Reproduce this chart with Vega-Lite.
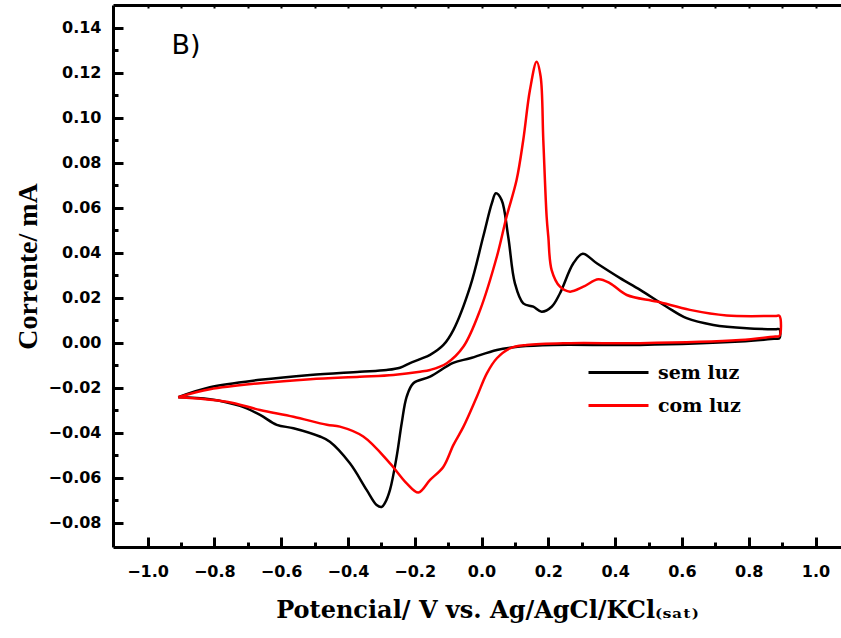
{
  "$schema": "https://vega.github.io/schema/vega-lite/v6.json",
  "width": 728,
  "height": 542,
  "autosize": {"type": "none"},
  "padding": {"left": 113, "top": 5, "right": 0, "bottom": 91},
  "background": "white",
  "config": {"view": {"stroke": null}, "axis": {"grid": false}},
  "datasets": {
    "cv": [
      {"s": "sem luz", "i": 1, "x": -0.908, "y": -0.0241},
      {"s": "sem luz", "i": 2, "x": -0.813, "y": -0.0197},
      {"s": "sem luz", "i": 3, "x": -0.663, "y": -0.0164},
      {"s": "sem luz", "i": 4, "x": -0.513, "y": -0.0142},
      {"s": "sem luz", "i": 5, "x": -0.364, "y": -0.0128},
      {"s": "sem luz", "i": 6, "x": -0.284, "y": -0.0120},
      {"s": "sem luz", "i": 7, "x": -0.244, "y": -0.0110},
      {"s": "sem luz", "i": 8, "x": -0.214, "y": -0.0090},
      {"s": "sem luz", "i": 9, "x": -0.184, "y": -0.0072},
      {"s": "sem luz", "i": 10, "x": -0.154, "y": -0.0053},
      {"s": "sem luz", "i": 11, "x": -0.114, "y": -0.0009},
      {"s": "sem luz", "i": 12, "x": -0.084, "y": 0.0058},
      {"s": "sem luz", "i": 13, "x": -0.034, "y": 0.0250},
      {"s": "sem luz", "i": 14, "x": 0.005, "y": 0.0472},
      {"s": "sem luz", "i": 15, "x": 0.031, "y": 0.0621},
      {"s": "sem luz", "i": 16, "x": 0.043, "y": 0.0665},
      {"s": "sem luz", "i": 17, "x": 0.060, "y": 0.0636},
      {"s": "sem luz", "i": 18, "x": 0.080, "y": 0.0472},
      {"s": "sem luz", "i": 19, "x": 0.100, "y": 0.0265},
      {"s": "sem luz", "i": 20, "x": 0.125, "y": 0.0176},
      {"s": "sem luz", "i": 21, "x": 0.155, "y": 0.0161},
      {"s": "sem luz", "i": 22, "x": 0.180, "y": 0.0139},
      {"s": "sem luz", "i": 23, "x": 0.210, "y": 0.0161},
      {"s": "sem luz", "i": 24, "x": 0.235, "y": 0.0221},
      {"s": "sem luz", "i": 25, "x": 0.275, "y": 0.0354},
      {"s": "sem luz", "i": 26, "x": 0.303, "y": 0.0396},
      {"s": "sem luz", "i": 27, "x": 0.345, "y": 0.0354},
      {"s": "sem luz", "i": 28, "x": 0.415, "y": 0.0288},
      {"s": "sem luz", "i": 29, "x": 0.475, "y": 0.0236},
      {"s": "sem luz", "i": 30, "x": 0.554, "y": 0.0161},
      {"s": "sem luz", "i": 31, "x": 0.614, "y": 0.0110},
      {"s": "sem luz", "i": 32, "x": 0.694, "y": 0.0080},
      {"s": "sem luz", "i": 33, "x": 0.794, "y": 0.0065},
      {"s": "sem luz", "i": 34, "x": 0.880, "y": 0.0061},
      {"s": "sem luz", "i": 35, "x": 0.892, "y": 0.0061},
      {"s": "sem luz", "i": 36, "x": 0.892, "y": 0.0021},
      {"s": "sem luz", "i": 37, "x": 0.880, "y": 0.0019},
      {"s": "sem luz", "i": 38, "x": 0.774, "y": 0.0006},
      {"s": "sem luz", "i": 39, "x": 0.475, "y": -0.0009},
      {"s": "sem luz", "i": 40, "x": 0.214, "y": -0.0009},
      {"s": "sem luz", "i": 41, "x": 0.115, "y": -0.0016},
      {"s": "sem luz", "i": 42, "x": 0.046, "y": -0.0031},
      {"s": "sem luz", "i": 43, "x": -0.034, "y": -0.0068},
      {"s": "sem luz", "i": 44, "x": -0.085, "y": -0.0089},
      {"s": "sem luz", "i": 45, "x": -0.154, "y": -0.0150},
      {"s": "sem luz", "i": 46, "x": -0.204, "y": -0.0179},
      {"s": "sem luz", "i": 47, "x": -0.224, "y": -0.0239},
      {"s": "sem luz", "i": 48, "x": -0.239, "y": -0.0357},
      {"s": "sem luz", "i": 49, "x": -0.254, "y": -0.0505},
      {"s": "sem luz", "i": 50, "x": -0.274, "y": -0.0653},
      {"s": "sem luz", "i": 51, "x": -0.289, "y": -0.0711},
      {"s": "sem luz", "i": 52, "x": -0.299, "y": -0.0729},
      {"s": "sem luz", "i": 53, "x": -0.314, "y": -0.0720},
      {"s": "sem luz", "i": 54, "x": -0.344, "y": -0.0653},
      {"s": "sem luz", "i": 55, "x": -0.394, "y": -0.0535},
      {"s": "sem luz", "i": 56, "x": -0.454, "y": -0.0439},
      {"s": "sem luz", "i": 57, "x": -0.484, "y": -0.0416},
      {"s": "sem luz", "i": 58, "x": -0.563, "y": -0.0379},
      {"s": "sem luz", "i": 59, "x": -0.613, "y": -0.0364},
      {"s": "sem luz", "i": 60, "x": -0.663, "y": -0.0320},
      {"s": "sem luz", "i": 61, "x": -0.723, "y": -0.0280},
      {"s": "sem luz", "i": 62, "x": -0.813, "y": -0.0250},
      {"s": "sem luz", "i": 63, "x": -0.908, "y": -0.0241},
      {"s": "com luz", "i": 1, "x": -0.908, "y": -0.0241},
      {"s": "com luz", "i": 2, "x": -0.813, "y": -0.0206},
      {"s": "com luz", "i": 3, "x": -0.663, "y": -0.0179},
      {"s": "com luz", "i": 4, "x": -0.513, "y": -0.0161},
      {"s": "com luz", "i": 5, "x": -0.364, "y": -0.0150},
      {"s": "com luz", "i": 6, "x": -0.264, "y": -0.0142},
      {"s": "com luz", "i": 7, "x": -0.184, "y": -0.0128},
      {"s": "com luz", "i": 8, "x": -0.154, "y": -0.0120},
      {"s": "com luz", "i": 9, "x": -0.104, "y": -0.0090},
      {"s": "com luz", "i": 10, "x": -0.054, "y": -0.0016},
      {"s": "com luz", "i": 11, "x": -0.004, "y": 0.0147},
      {"s": "com luz", "i": 12, "x": 0.046, "y": 0.0384},
      {"s": "com luz", "i": 13, "x": 0.075, "y": 0.0561},
      {"s": "com luz", "i": 14, "x": 0.105, "y": 0.0724},
      {"s": "com luz", "i": 15, "x": 0.125, "y": 0.0902},
      {"s": "com luz", "i": 16, "x": 0.145, "y": 0.1124},
      {"s": "com luz", "i": 17, "x": 0.165, "y": 0.1250},
      {"s": "com luz", "i": 18, "x": 0.177, "y": 0.1184},
      {"s": "com luz", "i": 19, "x": 0.185, "y": 0.0902},
      {"s": "com luz", "i": 20, "x": 0.195, "y": 0.0561},
      {"s": "com luz", "i": 21, "x": 0.200, "y": 0.0472},
      {"s": "com luz", "i": 22, "x": 0.210, "y": 0.0324},
      {"s": "com luz", "i": 23, "x": 0.235, "y": 0.0250},
      {"s": "com luz", "i": 24, "x": 0.265, "y": 0.0228},
      {"s": "com luz", "i": 25, "x": 0.305, "y": 0.0250},
      {"s": "com luz", "i": 26, "x": 0.350, "y": 0.0283},
      {"s": "com luz", "i": 27, "x": 0.385, "y": 0.0265},
      {"s": "com luz", "i": 28, "x": 0.435, "y": 0.0213},
      {"s": "com luz", "i": 29, "x": 0.525, "y": 0.0184},
      {"s": "com luz", "i": 30, "x": 0.624, "y": 0.0147},
      {"s": "com luz", "i": 31, "x": 0.734, "y": 0.0122},
      {"s": "com luz", "i": 32, "x": 0.880, "y": 0.0120},
      {"s": "com luz", "i": 33, "x": 0.892, "y": 0.0120},
      {"s": "com luz", "i": 34, "x": 0.892, "y": 0.0031},
      {"s": "com luz", "i": 35, "x": 0.880, "y": 0.0029},
      {"s": "com luz", "i": 36, "x": 0.774, "y": 0.0013},
      {"s": "com luz", "i": 37, "x": 0.475, "y": -0.0001},
      {"s": "com luz", "i": 38, "x": 0.265, "y": -0.0001},
      {"s": "com luz", "i": 39, "x": 0.135, "y": -0.0009},
      {"s": "com luz", "i": 40, "x": 0.085, "y": -0.0024},
      {"s": "com luz", "i": 41, "x": 0.046, "y": -0.0068},
      {"s": "com luz", "i": 42, "x": 0.016, "y": -0.0135},
      {"s": "com luz", "i": 43, "x": -0.014, "y": -0.0239},
      {"s": "com luz", "i": 44, "x": -0.054, "y": -0.0372},
      {"s": "com luz", "i": 45, "x": -0.084, "y": -0.0453},
      {"s": "com luz", "i": 46, "x": -0.114, "y": -0.0550},
      {"s": "com luz", "i": 47, "x": -0.154, "y": -0.0609},
      {"s": "com luz", "i": 48, "x": -0.189, "y": -0.0665},
      {"s": "com luz", "i": 49, "x": -0.224, "y": -0.0624},
      {"s": "com luz", "i": 50, "x": -0.274, "y": -0.0535},
      {"s": "com luz", "i": 51, "x": -0.354, "y": -0.0416},
      {"s": "com luz", "i": 52, "x": -0.424, "y": -0.0372},
      {"s": "com luz", "i": 53, "x": -0.463, "y": -0.0364},
      {"s": "com luz", "i": 54, "x": -0.563, "y": -0.0328},
      {"s": "com luz", "i": 55, "x": -0.663, "y": -0.0298},
      {"s": "com luz", "i": 56, "x": -0.763, "y": -0.0261},
      {"s": "com luz", "i": 57, "x": -0.908, "y": -0.0241}
    ]
  },
  "layer": [
    {
      "data": {"name": "cv"},
      "mark": {"type": "line", "strokeWidth": 2.5, "clip": true, "interpolate": "catmull-rom"},
      "encoding": {
        "x": {
          "field": "x", "type": "quantitative",
          "scale": {"domain": [-1.1033, 1.0763], "nice": false, "zero": false},
          "axis": {
            "orient": "bottom",
            "values": [-1.0, -0.8, -0.6, -0.4, -0.2, 0.0, 0.2, 0.4, 0.6, 0.8, 1.0],
            "format": ".1f",
            "labelFont": "DejaVu Sans", "labelFontWeight": "bold", "labelFontSize": 16, "labelColor": "black",
            "labelPadding": 26,
            "tickSize": -10,
            "tickWidth": 3, "tickColor": "black",
            "domainColor": "black", "domainWidth": 3,
            "title": "Potencial/ V vs. Ag/AgCl/KCl₍ₛₐₜ₎",
            "titleFont": "DejaVu Serif", "titleFontWeight": "bold", "titleFontSize": 24, "titleColor": "black",
            "titleX": 374, "titleY": 70, "titleAlign": "center", "titleBaseline": "alphabetic",
            "grid": false
          }
        },
        "y": {
          "field": "y", "type": "quantitative",
          "scale": {"domain": [-0.0907, 0.1502], "nice": false, "zero": false},
          "axis": {
            "orient": "left",
            "values": [-0.08, -0.06, -0.04, -0.02, 0.0, 0.02, 0.04, 0.06, 0.08, 0.1, 0.12, 0.14],
            "format": ".2f",
            "labelFont": "DejaVu Sans", "labelFontWeight": "bold", "labelFontSize": 16, "labelColor": "black",
            "labelPadding": 22,
            "tickSize": -10,
            "tickWidth": 3, "tickColor": "black",
            "domainColor": "black", "domainWidth": 3,
            "title": "Corrente/ mA",
            "titleFont": "Liberation Serif", "titleFontWeight": "bold", "titleFontSize": 28, "titleColor": "black",
            "titleAngle": 270, "titleX": -85, "titleY": 261, "titleAlign": "center", "titleBaseline": "middle",
            "grid": false
          }
        },
        "color": {
          "field": "s", "type": "nominal",
          "scale": {"domain": ["sem luz", "com luz"], "range": ["#000000", "#ff0000"]},
          "legend": {
            "orient": "none", "legendX": 474, "legendY": 356, "title": null,
            "symbolType": "M-1,0H5", "symbolSize": 400, "symbolStrokeWidth": 3, "symbolFillColor": "transparent",
            "labelFont": "DejaVu Serif", "labelFontWeight": "bold", "labelFontSize": 19, "labelColor": "black",
            "labelOffset": 48, "rowPadding": 11, "padding": 0
          }
        },
        "order": {"field": "i", "type": "quantitative"}
      }
    },
    {
      "data": {"name": "cv"},
      "mark": {"type": "point", "opacity": 0},
      "encoding": {
        "x": {
          "field": "x", "type": "quantitative",
          "axis": {
            "orient": "bottom",
            "values": [-0.9, -0.7, -0.5, -0.3, -0.1, 0.1, 0.3, 0.5, 0.7, 0.9],
            "labels": false, "domain": false, "title": null,
            "tickSize": -5, "tickWidth": 3, "tickColor": "black", "grid": false
          }
        },
        "y": {
          "field": "y", "type": "quantitative",
          "axis": {
            "orient": "left",
            "values": [-0.07, -0.05, -0.03, -0.01, 0.01, 0.03, 0.05, 0.07, 0.09, 0.11, 0.13],
            "labels": false, "domain": false, "title": null,
            "tickSize": -5, "tickWidth": 3, "tickColor": "black", "grid": false
          }
        }
      }
    },
    {
      "data": {"values": [{}]},
      "mark": {"type": "text", "text": "B)", "font": "DejaVu Sans", "fontSize": 27, "color": "black", "align": "center", "baseline": "middle"},
      "encoding": {
        "x": {"datum": -0.885, "type": "quantitative", "axis": {"orient": "top", "labels": false, "ticks": true, "tickSize": -3, "tickWidth": 2, "tickColor": "black", "values": [-1.0, -0.9, -0.8, -0.7, -0.6, -0.5, -0.4, -0.3, -0.2, -0.1, 0.0, 0.1, 0.2, 0.3, 0.4, 0.5, 0.6, 0.7, 0.8, 0.9, 1.0], "domainColor": "black", "domainWidth": 3, "title": null, "grid": false}},
        "y": {"datum": 0.132, "type": "quantitative", "axis": null}
      }
    }
  ],
  "resolve": {"axis": {"x": "independent", "y": "independent"}}
}
